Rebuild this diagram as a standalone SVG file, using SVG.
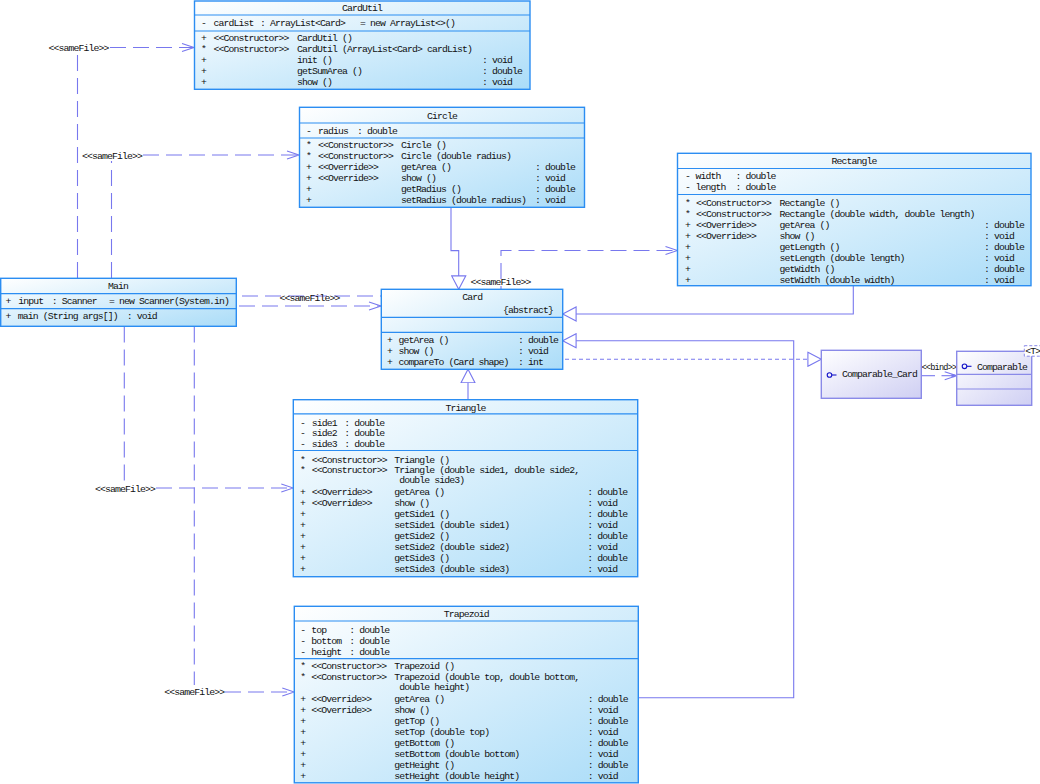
<svg xmlns="http://www.w3.org/2000/svg" width="1040" height="784" viewBox="0 0 1040 784">
<defs>
<linearGradient id="cls" x1="0" y1="0" x2="1" y2="1">
<stop offset="0" stop-color="#ffffff"/><stop offset="1" stop-color="#aadcf8"/>
</linearGradient>
<linearGradient id="ifc" x1="0" y1="0" x2="1" y2="1">
<stop offset="0" stop-color="#ffffff"/><stop offset="1" stop-color="#cfcff3"/>
</linearGradient>
<marker id="dep" markerUnits="userSpaceOnUse" markerWidth="14" markerHeight="10" refX="13" refY="5" orient="auto" viewBox="0 0 14 10">
<path d="M1,1 L13,5 L1,9" fill="none" stroke="#7878ee" stroke-width="1.1"/>
</marker>
<marker id="gen" markerUnits="userSpaceOnUse" markerWidth="16" markerHeight="16" refX="14" refY="8" orient="auto" viewBox="0 0 16 16">
<path d="M0.6,1 L14,8 L0.6,15 Z" fill="#ffffff" stroke="#7878ee" stroke-width="1.1"/>
</marker>
<style>
.box{fill:url(#cls);stroke:#2b8df2;stroke-width:1.4}
.sep{stroke:#2b8df2;stroke-width:1.2}
.ibox{fill:url(#ifc);stroke:#8a8ae8;stroke-width:1.4}
.isep{stroke:#8a8ae8;stroke-width:1.2}
text{font-family:"Liberation Mono","DejaVu Sans Mono",monospace;font-size:9.8px;letter-spacing:-0.88px;fill:#111111}
.c{text-anchor:middle}
.e{text-anchor:end}
.ln{fill:none;stroke:#7878ee;stroke-width:1.1}
.dash{stroke-dasharray:16 7}
.dot{stroke-dasharray:4 3}
.ico{fill:none;stroke:#1414c8;stroke-width:1.1}
</style>
</defs>

<g id="connectors">
<path class="ln dash" d="M77.5,278 V53"/>
<path class="ln dash" d="M110,47.5 H194" marker-end="url(#dep)"/>
<text x="48.5" y="51">&lt;&lt;sameFile&gt;&gt;</text>
<path class="ln dash" d="M111.5,278 V161"/>
<path class="ln dash" d="M143,155 H299" marker-end="url(#dep)"/>
<text x="82" y="158.5">&lt;&lt;sameFile&gt;&gt;</text>
<path class="ln dash" d="M242,296 H501 V250.5 H677.5" marker-end="url(#dep)"/>
<text x="470.5" y="284.5">&lt;&lt;sameFile&gt;&gt;</text>
<path class="ln dash" d="M239,306 H381" marker-end="url(#dep)"/>
<text x="279.5" y="301">&lt;&lt;sameFile&gt;&gt;</text>
<path class="ln dash" d="M124.3,326.5 V481"/>
<path class="ln dash" d="M156,488 H293.3" marker-end="url(#dep)"/>
<text x="95" y="491.5">&lt;&lt;sameFile&gt;&gt;</text>
<path class="ln dash" d="M194.3,326.5 V685"/>
<path class="ln dash" d="M225,692 H294.3" marker-end="url(#dep)"/>
<text x="164.3" y="695.3">&lt;&lt;sameFile&gt;&gt;</text>
<path class="ln" d="M451,207.3 V250.6 H458.7 V289.3" marker-end="url(#gen)"/>
<path class="ln" d="M853.3,285.7 V314 H562.7" marker-end="url(#gen)"/>
<path class="ln" d="M638.3,697.7 H793.7 V340.7 H562.7" marker-end="url(#gen)"/>
<path class="ln" d="M468,399.7 V369.3" marker-end="url(#gen)"/>
<path class="ln dot" d="M565,359.3 H821.3" marker-end="url(#gen)"/>
<path class="ln" d="M921.3,375.7 H935"/>
<path class="ln" d="M941.5,375.7 H956.7" marker-end="url(#dep)"/>
<rect x="951.5" y="374.2" width="3" height="3" fill="#7878ee"/>
<text x="921.5" y="369.8" textLength="35" lengthAdjust="spacingAndGlyphs">&lt;&lt;bind&gt;&gt;</text>
</g>

<g id="CardUtil">
<rect class="box" x="194.5" y="1" width="335.5" height="88.3"/>
<line class="sep" x1="194.5" y1="15" x2="530" y2="15"/>
<line class="sep" x1="194.5" y1="31" x2="530" y2="31"/>
<text class="c" x="362" y="11">CardUtil</text>
<text y="26"><tspan x="201">-</tspan><tspan x="213.5">cardList</tspan><tspan x="260">: ArrayList&lt;Card&gt;</tspan><tspan x="360">= new ArrayList&lt;&gt;()</tspan></text>
<text y="41.2"><tspan x="201">+</tspan><tspan x="213.5">&lt;&lt;Constructor&gt;&gt;</tspan><tspan x="297">CardUtil ()</tspan></text>
<text y="52.2"><tspan x="201">*</tspan><tspan x="213.5">&lt;&lt;Constructor&gt;&gt;</tspan><tspan x="297">CardUtil (ArrayList&lt;Card&gt; cardList)</tspan></text>
<text y="63.2"><tspan x="201">+</tspan><tspan x="297">init ()</tspan><tspan x="482">: void</tspan></text>
<text y="74.2"><tspan x="201">+</tspan><tspan x="297">getSumArea ()</tspan><tspan x="482">: double</tspan></text>
<text y="85.2"><tspan x="201">+</tspan><tspan x="297">show ()</tspan><tspan x="482">: void</tspan></text>
</g>

<g id="Circle">
<rect class="box" x="299.5" y="107.3" width="285" height="100"/>
<line class="sep" x1="299.5" y1="123" x2="584.5" y2="123"/>
<line class="sep" x1="299.5" y1="138" x2="584.5" y2="138"/>
<text class="c" x="442" y="118.5">Circle</text>
<text y="133.5"><tspan x="306">-</tspan><tspan x="318">radius</tspan><tspan x="357">: double</tspan></text>
<text y="148"><tspan x="306">*</tspan><tspan x="318">&lt;&lt;Constructor&gt;&gt;</tspan><tspan x="401">Circle ()</tspan></text>
<text y="159"><tspan x="306">*</tspan><tspan x="318">&lt;&lt;Constructor&gt;&gt;</tspan><tspan x="401">Circle (double radius)</tspan></text>
<text y="170"><tspan x="306">+</tspan><tspan x="318">&lt;&lt;Override&gt;&gt;</tspan><tspan x="401">getArea ()</tspan><tspan x="535">: double</tspan></text>
<text y="181"><tspan x="306">+</tspan><tspan x="318">&lt;&lt;Override&gt;&gt;</tspan><tspan x="401">show ()</tspan><tspan x="535">: void</tspan></text>
<text y="192"><tspan x="306">+</tspan><tspan x="401">getRadius ()</tspan><tspan x="535">: double</tspan></text>
<text y="203"><tspan x="306">+</tspan><tspan x="401">setRadius (double radius)</tspan><tspan x="535">: void</tspan></text>
</g>

<g id="Rectangle">
<rect class="box" x="677.5" y="153.3" width="353.5" height="132.4"/>
<line class="sep" x1="677.5" y1="168.5" x2="1031" y2="168.5"/>
<line class="sep" x1="677.5" y1="194.5" x2="1031" y2="194.5"/>
<text class="c" x="854" y="164">Rectangle</text>
<text y="179"><tspan x="685">-</tspan><tspan x="695.5">width</tspan><tspan x="735.5">: double</tspan></text>
<text y="190"><tspan x="685">-</tspan><tspan x="695.5">length</tspan><tspan x="735.5">: double</tspan></text>
<text y="205.5"><tspan x="685">*</tspan><tspan x="696">&lt;&lt;Constructor&gt;&gt;</tspan><tspan x="779.5">Rectangle ()</tspan></text>
<text y="216.5"><tspan x="685">*</tspan><tspan x="696">&lt;&lt;Constructor&gt;&gt;</tspan><tspan x="779.5">Rectangle (double width, double length)</tspan></text>
<text y="227.5"><tspan x="685">+</tspan><tspan x="696">&lt;&lt;Override&gt;&gt;</tspan><tspan x="779.5">getArea ()</tspan><tspan x="984">: double</tspan></text>
<text y="238.5"><tspan x="685">+</tspan><tspan x="696">&lt;&lt;Override&gt;&gt;</tspan><tspan x="779.5">show ()</tspan><tspan x="984">: void</tspan></text>
<text y="249.5"><tspan x="685">+</tspan><tspan x="779.5">getLength ()</tspan><tspan x="984">: double</tspan></text>
<text y="260.5"><tspan x="685">+</tspan><tspan x="779.5">setLength (double length)</tspan><tspan x="984">: void</tspan></text>
<text y="271.5"><tspan x="685">+</tspan><tspan x="779.5">getWidth ()</tspan><tspan x="984">: double</tspan></text>
<text y="282.5"><tspan x="685">+</tspan><tspan x="779.5">setWidth (double width)</tspan><tspan x="984">: void</tspan></text>
</g>

<g id="Main">
<rect class="box" x="0.7" y="278.3" width="235.6" height="48"/>
<line class="sep" x1="0.7" y1="293.7" x2="236.3" y2="293.7"/>
<line class="sep" x1="0.7" y1="308.7" x2="236.3" y2="308.7"/>
<text class="c" x="118" y="289.2">Main</text>
<text y="304.2"><tspan x="5.5">+</tspan><tspan x="18.3">input</tspan><tspan x="51.7">: Scanner</tspan><tspan x="109">= new Scanner(System.in)</tspan></text>
<text y="319.2"><tspan x="5.5">+</tspan><tspan x="17.7">main (String args[])</tspan><tspan x="126.7">: void</tspan></text>
</g>

<g id="Card">
<rect class="box" x="381.3" y="289.3" width="181.4" height="80"/>
<line class="sep" x1="381.3" y1="317.3" x2="562.7" y2="317.3"/>
<line class="sep" x1="381.3" y1="332.3" x2="562.7" y2="332.3"/>
<text class="c" x="472.3" y="300.2">Card</text>
<text class="e" x="553" y="312.8">{abstract}</text>
<text y="342.8"><tspan x="387">+</tspan><tspan x="398.5">getArea ()</tspan><tspan x="518">: double</tspan></text>
<text y="353.8"><tspan x="387">+</tspan><tspan x="398.5">show ()</tspan><tspan x="518">: void</tspan></text>
<text y="364.8"><tspan x="387">+</tspan><tspan x="398.5">compareTo (Card shape)</tspan><tspan x="518">: int</tspan></text>
</g>

<g id="Comparable_Card">
<rect class="ibox" x="821.3" y="350.3" width="100" height="48"/>
<circle class="ico" cx="829.5" cy="375" r="2.3"/>
<line class="ico" x1="831.8" y1="375" x2="836.5" y2="375"/>
<text x="842" y="377">Comparable_Card</text>
</g>

<g id="Comparable">
<rect class="ibox" x="956.7" y="351.3" width="75" height="54"/>
<line class="isep" x1="956.7" y1="374.3" x2="1031.7" y2="374.3"/>
<line class="isep" x1="956.7" y1="389" x2="1031.7" y2="389"/>
<circle class="ico" cx="964.5" cy="366.3" r="2.3"/>
<line class="ico" x1="966.8" y1="366.3" x2="971.5" y2="366.3"/>
<text x="977" y="369.5">Comparable</text>
<rect x="1024.3" y="345.7" width="20" height="10.5" fill="#ffffff" stroke="#8a8ae8" stroke-width="1" stroke-dasharray="3 2"/>
<text x="1025.3" y="354.2">&lt;T&gt;</text>
</g>

<g id="Triangle">
<rect class="box" x="293.3" y="399.7" width="344.4" height="177"/>
<line class="sep" x1="293.3" y1="413.9" x2="637.7" y2="413.9"/>
<line class="sep" x1="293.3" y1="450.5" x2="637.7" y2="450.5"/>
<text class="c" x="465.5" y="410.5">Triangle</text>
<text y="425.5"><tspan x="300">-</tspan><tspan x="311.7">side1</tspan><tspan x="344.3">: double</tspan></text>
<text y="436.2"><tspan x="300">-</tspan><tspan x="311.7">side2</tspan><tspan x="344.3">: double</tspan></text>
<text y="447.2"><tspan x="300">-</tspan><tspan x="311.7">side3</tspan><tspan x="344.3">: double</tspan></text>
<text y="462.5"><tspan x="300">*</tspan><tspan x="311.7">&lt;&lt;Constructor&gt;&gt;</tspan><tspan x="394.3">Triangle ()</tspan></text>
<text y="473.2"><tspan x="300">*</tspan><tspan x="311.7">&lt;&lt;Constructor&gt;&gt;</tspan><tspan x="394.3">Triangle (double side1, double side2,</tspan></text>
<text y="482.8"><tspan x="399.3">double side3)</tspan></text>
<text y="495.2"><tspan x="300">+</tspan><tspan x="311.7">&lt;&lt;Override&gt;&gt;</tspan><tspan x="394.3">getArea ()</tspan><tspan x="587.3">: double</tspan></text>
<text y="506.2"><tspan x="300">+</tspan><tspan x="311.7">&lt;&lt;Override&gt;&gt;</tspan><tspan x="394.3">show ()</tspan><tspan x="587.3">: void</tspan></text>
<text y="517.2"><tspan x="300">+</tspan><tspan x="394.3">getSide1 ()</tspan><tspan x="587.3">: double</tspan></text>
<text y="528.2"><tspan x="300">+</tspan><tspan x="394.3">setSide1 (double side1)</tspan><tspan x="587.3">: void</tspan></text>
<text y="539.2"><tspan x="300">+</tspan><tspan x="394.3">getSide2 ()</tspan><tspan x="587.3">: double</tspan></text>
<text y="550.2"><tspan x="300">+</tspan><tspan x="394.3">setSide2 (double side2)</tspan><tspan x="587.3">: void</tspan></text>
<text y="561.2"><tspan x="300">+</tspan><tspan x="394.3">getSide3 ()</tspan><tspan x="587.3">: double</tspan></text>
<text y="572.2"><tspan x="300">+</tspan><tspan x="394.3">setSide3 (double side3)</tspan><tspan x="587.3">: void</tspan></text>
</g>

<g id="Trapezoid">
<rect class="box" x="294.3" y="606.3" width="344" height="176.5"/>
<line class="sep" x1="294.3" y1="621" x2="638.3" y2="621"/>
<line class="sep" x1="294.3" y1="658.7" x2="638.3" y2="658.7"/>
<text class="c" x="466.3" y="617.2">Trapezoid</text>
<text y="632.5"><tspan x="300.3">-</tspan><tspan x="311.3">top</tspan><tspan x="349.3">: double</tspan></text>
<text y="643.5"><tspan x="300.3">-</tspan><tspan x="311.3">bottom</tspan><tspan x="349.3">: double</tspan></text>
<text y="654.5"><tspan x="300.3">-</tspan><tspan x="311.3">height</tspan><tspan x="349.3">: double</tspan></text>
<text y="669.2"><tspan x="300.3">*</tspan><tspan x="311.3">&lt;&lt;Constructor&gt;&gt;</tspan><tspan x="394.3">Trapezoid ()</tspan></text>
<text y="680.2"><tspan x="300.3">*</tspan><tspan x="311.3">&lt;&lt;Constructor&gt;&gt;</tspan><tspan x="394.3">Trapezoid (double top, double bottom,</tspan></text>
<text y="690.2"><tspan x="399.3">double height)</tspan></text>
<text y="702.2"><tspan x="300.3">+</tspan><tspan x="311.3">&lt;&lt;Override&gt;&gt;</tspan><tspan x="394.3">getArea ()</tspan><tspan x="587.7">: double</tspan></text>
<text y="713.2"><tspan x="300.3">+</tspan><tspan x="311.3">&lt;&lt;Override&gt;&gt;</tspan><tspan x="394.3">show ()</tspan><tspan x="587.7">: void</tspan></text>
<text y="724.2"><tspan x="300.3">+</tspan><tspan x="394.3">getTop ()</tspan><tspan x="587.7">: double</tspan></text>
<text y="735.2"><tspan x="300.3">+</tspan><tspan x="394.3">setTop (double top)</tspan><tspan x="587.7">: void</tspan></text>
<text y="746.2"><tspan x="300.3">+</tspan><tspan x="394.3">getBottom ()</tspan><tspan x="587.7">: double</tspan></text>
<text y="757.2"><tspan x="300.3">+</tspan><tspan x="394.3">setBottom (double bottom)</tspan><tspan x="587.7">: void</tspan></text>
<text y="768.2"><tspan x="300.3">+</tspan><tspan x="394.3">getHeight ()</tspan><tspan x="587.7">: double</tspan></text>
<text y="779.2"><tspan x="300.3">+</tspan><tspan x="394.3">setHeight (double height)</tspan><tspan x="587.7">: void</tspan></text>
</g>
</svg>
